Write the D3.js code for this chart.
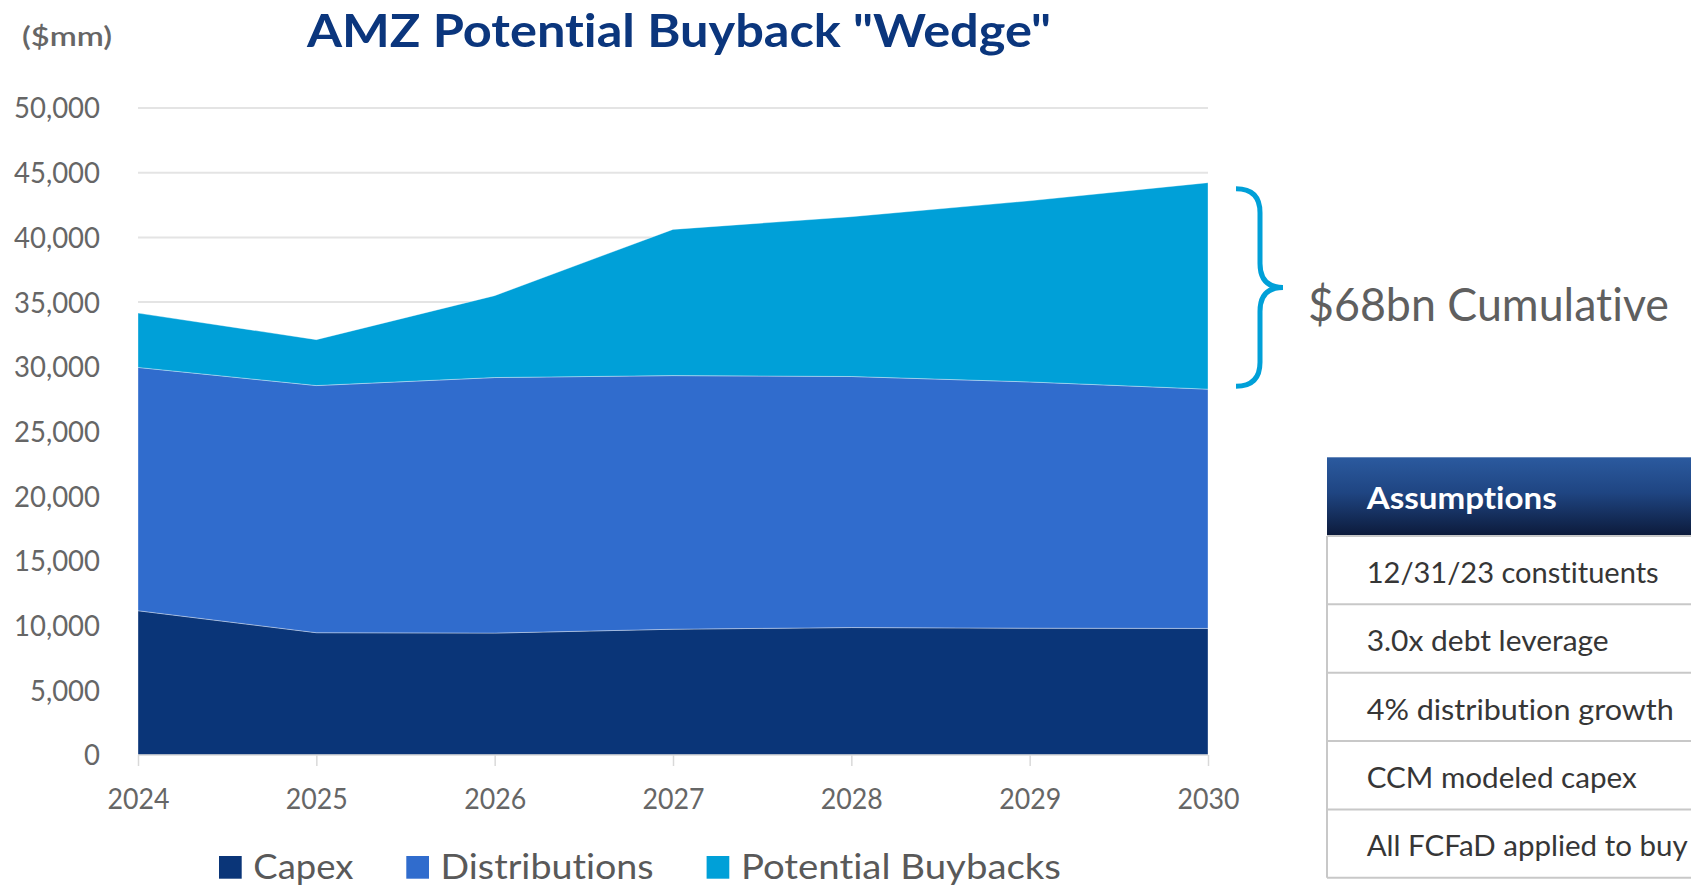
<!DOCTYPE html>
<html>
<head>
<meta charset="utf-8">
<script src="https://cdn.jsdelivr.net/npm/d3@7"></script>
<style>
  html, body { margin: 0; padding: 0; background: #ffffff; overflow: hidden; }
  svg { display: block; }
  text { font-family: Lato, "Noto Sans", sans-serif; font-variant-ligatures: none; font-feature-settings: "liga" 0, "clig" 0; }
</style>
</head>
<body>
<svg id="chart" width="1691" height="886"></svg>
<script>
// ---------------- data ----------------
const years = ["2024", "2025", "2026", "2027", "2028", "2029", "2030"];
const capex = [11150, 9450, 9420, 9720, 9850, 9800, 9780];
const distributions = [18800, 19100, 19750, 19600, 19400, 19030, 18490];
const buybacks = [4200, 3550, 6330, 11300, 12350, 14000, 15960];
const seriesNames = ["Capex", "Distributions", "Potential Buybacks"];
const yTicks = [0, 5000, 10000, 15000, 20000, 25000, 30000, 35000, 40000, 45000, 50000];
const titleText = 'AMZ Potential Buyback "Wedge"';
const unitText = "($mm)";
const annotationText = "$68bn Cumulative";
const tableHeader = "Assumptions";
const assumptions = ["12/31/23 constituents", "3.0x debt leverage", "4% distribution growth", "CCM modeled capex", "All FCFaD applied to buy"];

// ---------------- styles ----------------
const colors = ["#0a3578", "#306ccd", "#00a0d8"];
const grayText = "#666666";
const rowTextWidths = [292, 242, 307, 270, 321];

const svg = d3.select("#chart");
const W = 1691, H = 886;

function fitWidth(sel, w) {
  sel.attr("textLength", w).attr("lengthAdjust", "spacingAndGlyphs");
}
function condense(sel, k) {
  sel.each(function () {
    const n = this.getComputedTextLength();
    d3.select(this).attr("textLength", n * k).attr("lengthAdjust", "spacingAndGlyphs");
  });
}

// ---------------- scales ----------------
const x = d3.scalePoint().domain(years).range([138, 1208]);
const y = d3.scaleLinear().domain([0, 50000]).range([755, 108]);

const table = years.map((yr, i) => ({
  year: yr,
  "Capex": capex[i],
  "Distributions": distributions[i],
  "Potential Buybacks": buybacks[i]
}));
const stacked = d3.stack().keys(seriesNames)(table);

// ---------------- gridlines ----------------
svg.append("g").selectAll("line")
  .data(yTicks.filter(d => d > 0))
  .join("line")
  .attr("x1", x.range()[0]).attr("x2", x.range()[1])
  .attr("y1", d => y(d)).attr("y2", d => y(d))
  .attr("stroke", "#e4e4e4").attr("stroke-width", 2);

// ---------------- areas ----------------
const area = d3.area()
  .x(d => x(d.data.year))
  .y0(d => y(d[0]))
  .y1(d => y(d[1]));

svg.append("g").selectAll("path")
  .data(stacked)
  .join("path")
  .attr("d", area)
  .attr("fill", (d, i) => colors[i])
  .attr("stroke", "rgba(255,255,255,0.35)")
  .attr("stroke-width", 1);

// ---------------- y axis ----------------
const yAxis = svg.append("g")
  .attr("transform", "translate(100,0)")
  .call(d3.axisLeft(y).tickValues(yTicks).tickFormat(d3.format(",")).tickSize(0).tickPadding(0));
yAxis.select(".domain").remove();
const yLabels = yAxis.selectAll("text")
  .attr("font-family", "Lato, 'Noto Sans', sans-serif")
  .attr("font-size", 28.5)
  .attr("fill", grayText)
  .attr("dy", "0.35em");
{
  const ref = yLabels.filter(d => d === 50000).node();
  const k = 86 / ref.getComputedTextLength();
  condense(yLabels, k);
}

// ---------------- x axis ----------------
const xAxis = svg.append("g")
  .attr("transform", `translate(0,${y(0)})`)
  .call(d3.axisBottom(x).tickSize(11).tickPadding(0));
xAxis.select(".domain").attr("stroke", "#d9d9d9").attr("stroke-width", 1.5)
  .attr("d", `M${x.range()[0]},0H${x.range()[1]}`);
xAxis.selectAll(".tick line").attr("stroke", "#d9d9d9").attr("stroke-width", 1.5);
const xLabels = xAxis.selectAll("text")
  .attr("font-family", "Lato, 'Noto Sans', sans-serif")
  .attr("font-size", 29.5)
  .attr("fill", grayText)
  .attr("y", 53.7)
  .attr("dy", 0);
{
  const ref = xLabels.node();
  const k = 62 / ref.getComputedTextLength();
  condense(xLabels, k);
}

// ---------------- title & unit ----------------
const title = svg.append("text")
  .attr("x", 307).attr("y", 46.7)
  .attr("font-size", 46).attr("font-weight", 700)
  .attr("fill", "#0b367d")
  .text(titleText);
fitWidth(title, 744);

const unit = svg.append("text")
  .attr("x", 22).attr("y", 46)
  .attr("font-size", 27).attr("font-weight", 600)
  .attr("fill", grayText)
  .text(unitText);
fitWidth(unit, 90);

// ---------------- legend ----------------
const legendTargets = [100, 213, 320];
let lx = 219;
const legend = svg.append("g");
seriesNames.forEach((name, i) => {
  legend.append("rect")
    .attr("x", lx).attr("y", 856).attr("width", 22.7).attr("height", 22.7)
    .attr("fill", colors[i]);
  const t = legend.append("text")
    .attr("x", lx + 34.3).attr("y", 879)
    .attr("font-size", 35.4)
    .attr("fill", "#595959")
    .text(name);
  fitWidth(t, legendTargets[i]);
  lx = lx + 34.3 + legendTargets[i] + 53;
});

// ---------------- brace annotation ----------------
const last = years.length - 1;
const braceTop = y(capex[last] + distributions[last] + buybacks[last]) + 6;
const braceBot = y(capex[last] + distributions[last]) - 3;
const braceMid = (braceTop + braceBot) / 2;
const bx0 = 1236, bx1 = 1260, bx2 = 1283, r = 24;
const bracePath = d3.path();
bracePath.moveTo(bx0, braceTop);
bracePath.quadraticCurveTo(bx1, braceTop, bx1, braceTop + r);
bracePath.lineTo(bx1, braceMid - r);
bracePath.quadraticCurveTo(bx1, braceMid, bx2, braceMid);
bracePath.quadraticCurveTo(bx1, braceMid, bx1, braceMid + r);
bracePath.lineTo(bx1, braceBot - r);
bracePath.quadraticCurveTo(bx1, braceBot, bx0, braceBot);
svg.append("path")
  .attr("d", bracePath.toString())
  .attr("fill", "none")
  .attr("stroke", colors[2])
  .attr("stroke-width", 5);

const ann = svg.append("text")
  .attr("x", 1308).attr("y", braceMid + 34)
  .attr("font-size", 47)
  .attr("fill", "#5f5f5f")
  .text(annotationText);
fitWidth(ann, 361);

// ---------------- assumptions table ----------------
const defs = svg.append("defs");
const grad = defs.append("linearGradient").attr("id", "hdrGrad")
  .attr("x1", 0).attr("y1", 0).attr("x2", 0).attr("y2", 1);
grad.append("stop").attr("offset", "0%").attr("stop-color", "#2b5a9f");
grad.append("stop").attr("offset", "45%").attr("stop-color", "#1f4582");
grad.append("stop").attr("offset", "100%").attr("stop-color", "#0c1a3a");

const tX = 1327, hdrTop = 457.3, hdrBot = 536, rowH = 68.35;
const tbl = svg.append("g");
tbl.append("rect")
  .attr("x", tX).attr("y", hdrTop).attr("width", W - tX + 5).attr("height", hdrBot - hdrTop)
  .attr("fill", "url(#hdrGrad)");
const hdr = tbl.append("text")
  .attr("x", 1366.7).attr("y", 509)
  .attr("font-size", 31.4).attr("font-weight", 700)
  .attr("fill", "#ffffff")
  .text(tableHeader);
fitWidth(hdr, 190);

const tableBottom = hdrBot + rowH * assumptions.length;
tbl.append("line")
  .attr("x1", tX).attr("x2", tX).attr("y1", hdrBot).attr("y2", tableBottom)
  .attr("stroke", "#c8c8c8").attr("stroke-width", 2);
tbl.selectAll("line.row")
  .data(d3.range(assumptions.length + 1))
  .join("line").attr("class", "row")
  .attr("x1", tX).attr("x2", W)
  .attr("y1", i => hdrBot + rowH * i).attr("y2", i => hdrBot + rowH * i)
  .attr("stroke", "#c8c8c8").attr("stroke-width", 2);
tbl.selectAll("text.row")
  .data(assumptions)
  .join("text").attr("class", "row")
  .attr("x", 1366.7)
  .attr("y", (d, i) => hdrBot + rowH * i + rowH / 2 + 12.7)
  .attr("font-size", 29)
  .attr("fill", "#363636")
  .text(d => d)
  .attr("textLength", (d, i) => rowTextWidths[i])
  .attr("lengthAdjust", "spacingAndGlyphs");
</script>
</body>
</html>
